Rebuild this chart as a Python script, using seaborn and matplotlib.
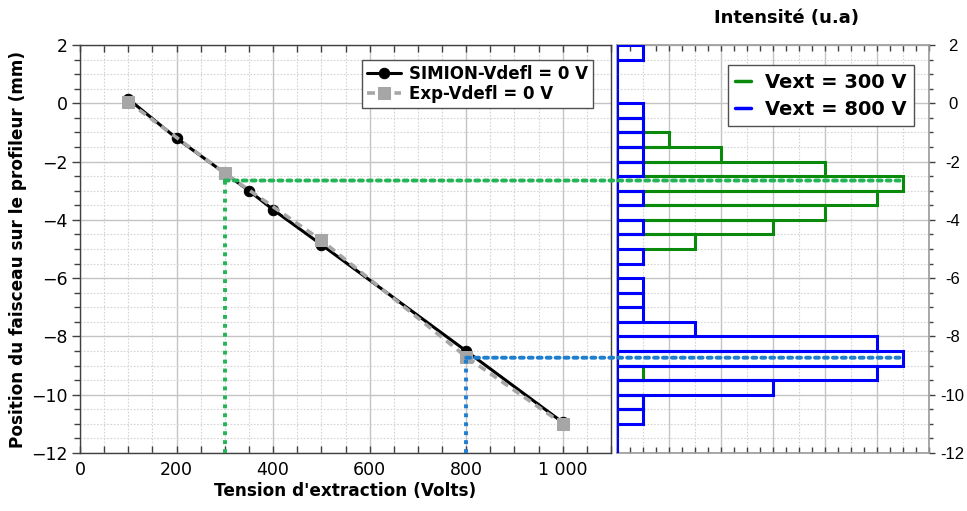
import numpy as np
import pandas as pd
import matplotlib
matplotlib.use("Agg")
import matplotlib.pyplot as plt
from matplotlib.patches import ConnectionPatch
from matplotlib.ticker import MultipleLocator
import seaborn as sns

# ---------------- data ----------------
simion_v = [100, 200, 300, 350, 400, 500, 800, 1000]
simion_pos = [0.15, -1.2, -2.4, -3.0, -3.65, -4.85, -8.5, -10.95]

exp_v = [100, 300, 500, 800, 1000]
exp_pos = [0.05, -2.4, -4.7, -8.7, -11.0]

# histogram bins (0.5 mm wide), from +2 down to -12
bin_edges = list(np.arange(2.0, -12.01, -0.5))
counts_300 = [0, 0, 0, 0, 0, 1, 2, 4, 8, 11, 10, 8, 6, 3,
              0, 0, 0, 0, 0, 0, 0, 0, 1, 0, 1, 0, 0, 0]
counts_800 = [1, 0, 0, 0, 1, 1, 1, 1, 1, 0, 1, 0, 1, 0,
              1, 0, 1, 1, 1, 3, 10, 11, 10, 6, 1, 1, 0, 0]

# projected beam positions
proj_300 = -2.65
proj_800 = -8.73

xtick_vals = [0, 200, 400, 600, 800, 1000]
xtick_labels = ["0", "200", "400", "600", "800", "1 000"]
ytick_vals = [2, 0, -2, -4, -6, -8, -10, -12]
ytick_labels_left = ["2", "0", "\u22122", "\u22124", "\u22126", "\u22128", "\u221210", "\u221212"]
ytick_labels_right = ["2", "0", "-2", "-4", "-6", "-8", "-10", "-12"]

# ---------------- style ----------------
sns.set_theme(style="white")
plt.rcParams["font.family"] = ["DejaVu Sans"]
plt.rcParams["text.color"] = "black"
plt.rcParams["axes.labelcolor"] = "black"
plt.rcParams["xtick.color"] = "black"
plt.rcParams["ytick.color"] = "black"

W, H = 967, 511
fig = plt.figure(figsize=(W / 100, H / 100), dpi=100)

ax1 = fig.add_axes([80 / W, (H - 453) / H, 531 / W, 408 / H])
ax2 = fig.add_axes([617 / W, (H - 453) / H, 312 / W, 408 / H])

major_grid = dict(color="#c4c4c4", linewidth=1.0, linestyle="-")
minor_grid = dict(color="#d4d4d4", linewidth=0.8, linestyle=(0, (1.5, 1.5)))

# ---------------- left panel ----------------
df_sim = pd.DataFrame({"V": simion_v, "pos": simion_pos})
df_exp = pd.DataFrame({"V": exp_v, "pos": exp_pos})

sns.lineplot(data=df_sim, x="V", y="pos", ax=ax1, color="black", linewidth=2.2,
             marker="o", markersize=7.5, markeredgecolor="black", sort=False,
             label="SIMION-Vdefl = 0 V", zorder=4)
sns.lineplot(data=df_exp, x="V", y="pos", ax=ax1, color="#a6a6a6", linewidth=2.6,
             linestyle=(0, (2.2, 1.6)), marker="s", markersize=9,
             markeredgecolor="#a6a6a6", sort=False,
             label="Exp-Vdefl = 0 V", zorder=5)

ax1.set_xlim(0, 1100)
ax1.set_ylim(-12, 2)
ax1.set_xticks(xtick_vals)
ax1.set_xticklabels(xtick_labels, fontsize=12.5)
ax1.set_yticks(ytick_vals)
ax1.set_yticklabels(ytick_labels_left, fontsize=12.5)
ax1.xaxis.set_minor_locator(MultipleLocator(50))
ax1.yaxis.set_minor_locator(MultipleLocator(0.5))
ax1.grid(which="major", **major_grid)
ax1.grid(which="minor", **minor_grid)
ax1.set_axisbelow(True)
ax1.tick_params(axis="x", which="both", direction="in", length=5, width=1,
                color="#404040", top=True, bottom=True, pad=6)
ax1.tick_params(axis="y", which="major", direction="out", length=6, width=1,
                color="#404040", left=True, right=False, pad=3)
ax1.tick_params(axis="y", which="minor", direction="out", length=4, width=1,
                color="#404040", left=True, right=False)
for s in ax1.spines.values():
    s.set_color("#404040")
    s.set_linewidth(1.0)

ax1.set_xlabel("Tension d'extraction (Volts)", fontsize=12.2, fontweight="bold",
               labelpad=2)
ax1.set_ylabel("Position du faisceau sur le profileur (mm)", fontsize=12.2,
               fontweight="bold", labelpad=3)

leg1 = ax1.legend(loc="upper right", bbox_to_anchor=(0.966, 0.963), borderaxespad=0,
                  fancybox=False, frameon=True, framealpha=1, edgecolor="#505050",
                  prop={"weight": "bold", "size": 12}, handlelength=2.0,
                  handletextpad=0.5, borderpad=0.3, labelspacing=0.1)
leg1.get_frame().set_linewidth(1.0)

# ---------------- right panel (histograms) ----------------
edges_sorted = sorted(bin_edges)
centers = [(a + b) / 2 for a, b in zip(bin_edges[:-1], bin_edges[1:])]
df_h = pd.DataFrame({"center": centers, "c300": counts_300, "c800": counts_800})

sns.histplot(data=df_h, y="center", weights="c300", bins=edges_sorted, ax=ax2,
             fill=False, element="bars", color="#0a8a0a", linewidth=2.2,
             label="Vext = 300 V", zorder=3)
sns.histplot(data=df_h, y="center", weights="c800", bins=edges_sorted, ax=ax2,
             fill=False, element="bars", color="#0000ff", linewidth=2.2,
             label="Vext = 800 V", zorder=4)

ax2.set_xlim(0, 12)
ax2.set_ylim(-12, 2)
ax2.set_xlabel("")
ax2.set_ylabel("")
ax2.set_xticks(np.arange(0, 12.1, 2))
ax2.set_xticklabels([])
ax2.xaxis.set_minor_locator(MultipleLocator(0.5))
ax2.yaxis.set_minor_locator(MultipleLocator(0.5))
ax2.yaxis.tick_right()
ax2.set_yticks(ytick_vals)
ax2.set_yticklabels(ytick_labels_right, fontsize=12, family=["Liberation Sans"],
                    ha="center")
ax2.grid(axis="x", which="major", **major_grid)
ax2.grid(axis="y", which="major", **major_grid)
ax2.grid(axis="y", which="minor", **minor_grid)
for xv in np.arange(1, 12, 2):
    ax2.axvline(xv, zorder=0.5, **minor_grid)
ax2.set_axisbelow(True)
ax2.tick_params(axis="x", which="both", direction="in", length=4, width=1,
                color="#404040", top=True, bottom=True)
ax2.tick_params(axis="y", which="major", direction="out", length=4, width=1,
                color="#404040", right=True, left=False, pad=13)
ax2.tick_params(axis="y", which="minor", direction="out", length=3, width=1,
                color="#404040", right=True, left=False)
for name, s in ax2.spines.items():
    s.set_color("#9a9a9a")
    s.set_linewidth(1.2)

leg_handles = [plt.Line2D([], [], color="#0a8a0a", linewidth=2.5),
               plt.Line2D([], [], color="#0000ff", linewidth=2.5)]
leg2 = ax2.legend(leg_handles, ["Vext = 300 V", "Vext = 800 V"], loc="upper right",
                  bbox_to_anchor=(0.952, 0.951), borderaxespad=0, fancybox=False,
                  frameon=True, framealpha=1, edgecolor="#505050",
                  prop={"weight": "bold", "size": 14}, handlelength=0.8,
                  handletextpad=0.7, borderpad=0.4, labelspacing=0.4)
leg2.get_frame().set_linewidth(1.0)

fig.text(787 / W, (H - 18) / H, "Intensit\u00e9 (u.a)", ha="center", va="center",
         fontsize=13, fontweight="bold")

# ---------------- projection dotted lines ----------------
dot = (0, (1.0, 1.3))
for v, p, col in [(300, proj_300, "#22b455"), (800, proj_800, "#1f7fcf")]:
    ax1.plot([v, v], [-12, p], color=col, linewidth=2.8, linestyle=dot, zorder=6,
             solid_capstyle="butt", dash_capstyle="butt")
    con = ConnectionPatch(xyA=(v, p), coordsA=ax1.transData,
                          xyB=(11, p), coordsB=ax2.transData,
                          color=col, linewidth=2.8, linestyle=dot, zorder=10)
    fig.add_artist(con)

fig.savefig("out.png", dpi=100)
